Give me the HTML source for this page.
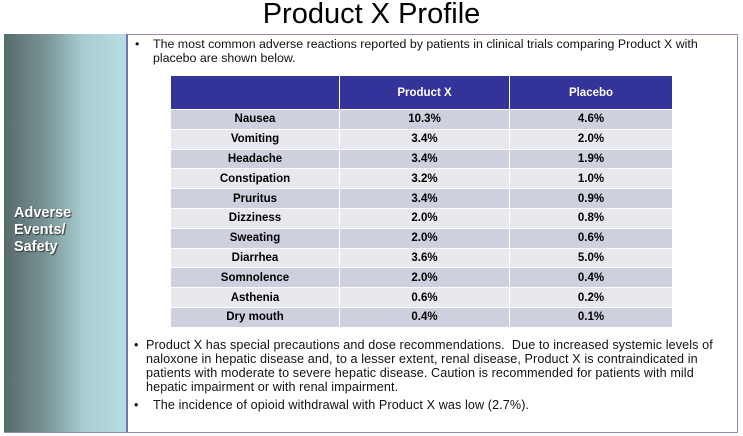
<!DOCTYPE html>
<html><head><style>
body{margin:0;width:743px;height:436px;background:#fff;font-family:"Liberation Sans",Arial,sans-serif;position:relative;overflow:hidden}
.title{position:absolute;top:-1px;left:0;width:743px;text-align:center;font-size:29px;line-height:30px;color:#000}
.box{position:absolute;left:4px;top:34px;width:733px;height:397px;border:1px solid #8a8fb8;border-left:none}
.left{position:absolute;left:4px;top:34px;width:122px;height:398px;background:linear-gradient(to right,#566a6b 0%,#7a9596 35%,#a8cdd0 65%,#b8dde0 100%);border-right:2px solid #6f74b5}
.lt{position:absolute;left:14px;top:205px;color:#fff;font-weight:bold;font-size:14.5px;line-height:17px;text-shadow:1px 1px 1px #333}
.t{position:absolute;font-size:12.4px;line-height:13.5px;color:#111;white-space:nowrap}
.b{font-size:12.6px;line-height:14px;letter-spacing:0.1px}
table{position:absolute;left:170px;top:75px;width:503px;border-collapse:collapse;font-size:11.5px;font-weight:bold;text-align:center}
td{height:18.8px;padding:0;border:1px solid #fff}
th{height:31px;background:#333399;color:#fff;border:1px solid #fff}
tr:nth-child(even) td{background:#cfd0de}
tr:nth-child(odd) td{background:#e8e8ef}
</style></head><body>
<div class="title">Product X Profile</div>
<div class="box"></div>
<div class="left"></div>
<div class="lt">Adverse<br>Events/<br>Safety</div>
<div class="t" style="left:135px;top:38px">•</div>
<div class="t" style="left:153px;top:38px">The most common adverse reactions reported by patients in clinical trials comparing Product X with<br>placebo are shown below.</div>
<table>
<tr><th style="width:166px"></th><th style="width:167px">Product X</th><th>Placebo</th></tr>
<tr><td>Nausea</td><td>10.3%</td><td>4.6%</td></tr>
<tr><td>Vomiting</td><td>3.4%</td><td>2.0%</td></tr>
<tr><td>Headache</td><td>3.4%</td><td>1.9%</td></tr>
<tr><td>Constipation</td><td>3.2%</td><td>1.0%</td></tr>
<tr><td>Pruritus</td><td>3.4%</td><td>0.9%</td></tr>
<tr><td>Dizziness</td><td>2.0%</td><td>0.8%</td></tr>
<tr><td>Sweating</td><td>2.0%</td><td>0.6%</td></tr>
<tr><td>Diarrhea</td><td>3.6%</td><td>5.0%</td></tr>
<tr><td>Somnolence</td><td>2.0%</td><td>0.4%</td></tr>
<tr><td>Asthenia</td><td>0.6%</td><td>0.2%</td></tr>
<tr><td>Dry mouth</td><td>0.4%</td><td>0.1%</td></tr>
</table>
<div class="t b" style="left:134px;top:338px">•</div>
<div class="t b" style="left:146px;top:338px">Product X has special precautions and dose recommendations.&nbsp; Due to increased systemic levels of<br>naloxone in hepatic disease and, to a lesser extent, renal disease, Product X is contraindicated in<br>patients with moderate to severe hepatic disease. Caution is recommended for patients with mild<br>hepatic impairment or with renal impairment.</div>
<div class="t b" style="left:134px;top:398px">•</div>
<div class="t b" style="left:153px;top:398px">The incidence of opioid withdrawal with Product X was low (2.7%).</div>
</body></html>
